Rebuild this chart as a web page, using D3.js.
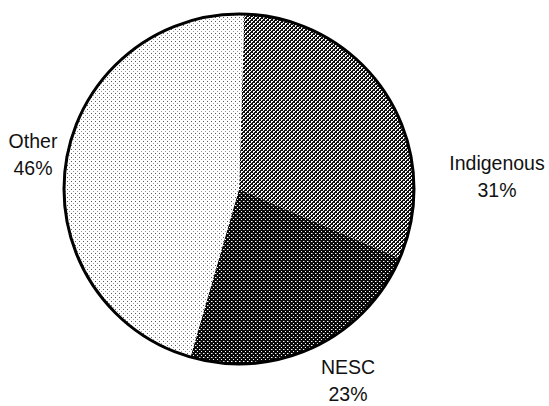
<!DOCTYPE html>
<html>
<head>
<meta charset="utf-8">
<script src="https://cdn.jsdelivr.net/npm/d3@7"></script>
<style>
  body { margin: 0; background: #fff; }
  svg { display: block; }
  text { font-family: "Liberation Sans", Arial, sans-serif; font-size: 19.5px; fill: #111; }
</style>
</head>
<body>
<div id="chart"></div>
<script>
const categories = ["Indigenous", "NESC", "Other"]
const shares = [31, 23, 46]
const labels = ["31%", "23%", "46%"]

const width = 549
const height = 406
const cx = 239, cy = 189, radius = 175

// where each label block sits (centre x, first baseline y)
const labelSpots = {
    "Indigenous": [497, 170],
    "NESC": [348, 374],
    "Other": [33, 148]
}

const svg = d3.select("#chart")
    .append("svg")
    .attr("width", width)
    .attr("height", height)

const defs = svg.append("defs")

// Indigenous - dark checker with white dots
const p1 = defs.append("pattern").attr("id", "pat-ind")
    .attr("patternUnits", "userSpaceOnUse").attr("width", 4).attr("height", 4)
p1.append("rect").attr("width", 4).attr("height", 4).attr("fill", "#111")
p1.append("rect").attr("x", 0).attr("y", 0).attr("width", 2).attr("height", 1).attr("fill", "#fff")
p1.append("rect").attr("x", 0).attr("y", 1).attr("width", 1).attr("height", 1).attr("fill", "#fff")
p1.append("rect").attr("x", 2).attr("y", 2).attr("width", 2).attr("height", 1).attr("fill", "#fff")
p1.append("rect").attr("x", 2).attr("y", 3).attr("width", 1).attr("height", 1).attr("fill", "#fff")

// NESC - darker, small white dots
const p2 = defs.append("pattern").attr("id", "pat-nesc")
    .attr("patternUnits", "userSpaceOnUse").attr("width", 4).attr("height", 4)
p2.append("rect").attr("width", 4).attr("height", 4).attr("fill", "#0a0a0a")
p2.append("rect").attr("x", 0).attr("y", 0).attr("width", 1).attr("height", 1).attr("fill", "#fff")
p2.append("rect").attr("x", 2).attr("y", 2).attr("width", 1).attr("height", 1).attr("fill", "#fff")
p2.append("rect").attr("x", 1).attr("y", 0).attr("width", 1).attr("height", 1).attr("fill", "#777")

// Other - sparse grey dots
const p3 = defs.append("pattern").attr("id", "pat-other")
    .attr("patternUnits", "userSpaceOnUse").attr("width", 4).attr("height", 4)
p3.append("rect").attr("width", 4).attr("height", 4).attr("fill", "#fff")
p3.append("rect").attr("x", 0).attr("y", 0).attr("width", 1).attr("height", 1).attr("fill", "#555")
p3.append("rect").attr("x", 2).attr("y", 2).attr("width", 1).attr("height", 1).attr("fill", "#999")

const fills = d3.scaleOrdinal()
    .domain(categories)
    .range(["url(#pat-ind)", "url(#pat-nesc)", "url(#pat-other)"])

const data = categories.map((c, i) => ({ name: c, value: shares[i], label: labels[i] }))

const pie = d3.pie()
    .sort(null)
    .value(d => d.value)
    .startAngle(0.03)
    .endAngle(0.03 + 2 * Math.PI)

const arc = d3.arc().innerRadius(0).outerRadius(radius)

const g = svg.append("g").attr("transform", `translate(${cx},${cy})`)

g.selectAll("path.slice")
    .data(pie(data))
    .join("path")
    .attr("class", "slice")
    .attr("d", arc)
    .attr("fill", d => fills(d.data.name))

g.append("circle")
    .attr("r", radius)
    .attr("fill", "none")
    .attr("stroke", "#000")
    .attr("stroke-width", 3)

const lab = svg.selectAll("text.lab")
    .data(data)
    .join("text")
    .attr("class", "lab")
    .attr("text-anchor", "middle")
    .attr("x", d => labelSpots[d.name][0])
    .attr("y", d => labelSpots[d.name][1])

lab.append("tspan").text(d => d.name)
lab.append("tspan")
    .attr("x", d => labelSpots[d.name][0])
    .attr("dy", 27)
    .text(d => d.label)
</script>
</body>
</html>
